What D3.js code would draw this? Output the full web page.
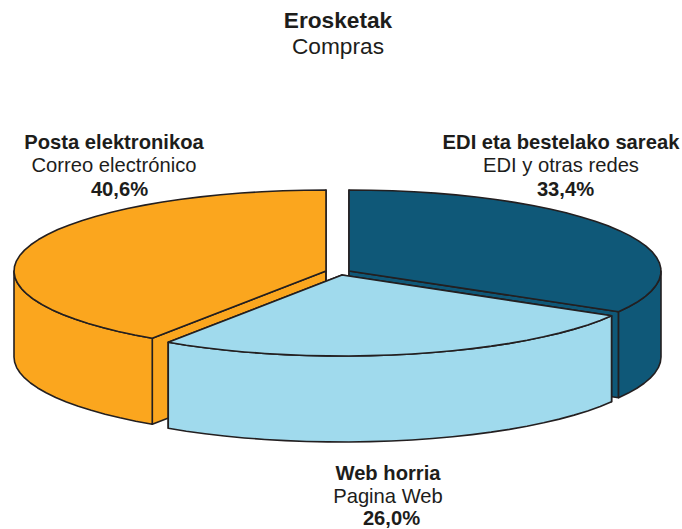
<!DOCTYPE html>
<html>
<head>
<meta charset="utf-8">
<script src="https://cdn.jsdelivr.net/npm/d3@7"></script>
<style>
  html, body { margin: 0; padding: 0; background: #fff; overflow: hidden; }
  text { font-family: "Liberation Sans", Arial, sans-serif; fill: #1d1d1b; text-anchor: middle; }
</style>
</head>
<body>
<svg id="chart" width="682" height="529"></svg>
<script>
// values, clockwise from 12 o'clock
let namesEu = ['EDI eta bestelako sareak', 'Web horria', 'Posta elektronikoa']
let namesEs = ['EDI y otras redes', 'Pagina Web', 'Correo electrónico']
let shares = [33.4, 26.0, 40.6]
let colors = ['#0f5878', '#a0daed', '#fba61e']

// each slice has its own centre because the pie is pulled apart
let centres = [[349, 271], [342, 275], [326, 271]]
let labelSpots = [[561, 149], [388, 480], [114, 149]]
// the percentages sit a bit right of the names in the original
let percentShift = [4.5, 3.5, 5.5]

let rx = 312
let ry = 81
let depth = 86

let svg = d3.select('#chart')
let fmt = d3.formatLocale({ decimal: ',', thousands: '.', grouping: [3], currency: ['', '€'] }).format('.1f')

let slices = d3.pie().sort(null).value(d => d)(shares)

let line = d3.line().x(d => d[0]).y(d => d[1])

// angle (clockwise from top) to a point on the rim of slice i
let rim = (i, a, drop = 0) => [
  centres[i][0] + rx * Math.sin(a),
  centres[i][1] - ry * Math.cos(a) + drop
]

// coarse steps keep the slightly faceted look of the original outline
let arcPoints = (i, a0, a1, drop = 0) => {
  let n = Math.max(2, Math.ceil((a1 - a0) / 0.07))
  return d3.range(n + 1).map(k => rim(i, a0 + (a1 - a0) * k / n, drop))
}

let drawShape = (pts, color) => {
  svg.append('path')
    .attr('d', line(pts) + 'Z')
    .attr('fill', color)
    .attr('stroke', '#231f20')
    .attr('stroke-width', 1.6)
    .attr('stroke-linejoin', 'round')
}

// back to front: blue, orange, then the light slice on top
let order = [0, 2, 1]
order.forEach(i => {
  let s = slices[i]
  let c = centres[i]
  let color = colors[i]

  // cut faces
  ;[s.startAngle, s.endAngle].forEach(a => {
    let p = rim(i, a)
    drawShape([c, p, [p[0], p[1] + depth], [c[0], c[1] + depth]], color)
  })

  // outer wall, only the part facing the viewer
  let w0 = Math.max(s.startAngle, Math.PI / 2)
  let w1 = Math.min(s.endAngle, Math.PI * 1.5)
  if (w1 > w0) {
    drawShape(arcPoints(i, w0, w1).concat(arcPoints(i, w0, w1, depth).reverse()), color)
  }

  // top face
  drawShape([c].concat(arcPoints(i, s.startAngle, s.endAngle)), color)
})

// title
svg.append('text').attr('x', 338).attr('y', 28)
  .attr('font-size', 22.7).attr('font-weight', 'bold').text('Erosketak')
svg.append('text').attr('x', 338).attr('y', 54)
  .attr('font-size', 22.7).text('Compras')

// slice labels
slices.forEach((s, i) => {
  let [x, y] = labelSpots[i]
  svg.append('text').attr('x', x).attr('y', y)
    .attr('font-size', 20.2).attr('font-weight', 'bold').text(namesEu[i])
  svg.append('text').attr('x', x).attr('y', y + 23)
    .attr('font-size', 20.2).text(namesEs[i])
  // capped so the comma of the bottom label stays inside the page
  svg.append('text').attr('x', x + percentShift[i]).attr('y', Math.min(y + 47, 524.5))
    .attr('font-size', 20.2).attr('font-weight', 'bold').text(fmt(s.data) + '%')
})
</script>
</body>
</html>
